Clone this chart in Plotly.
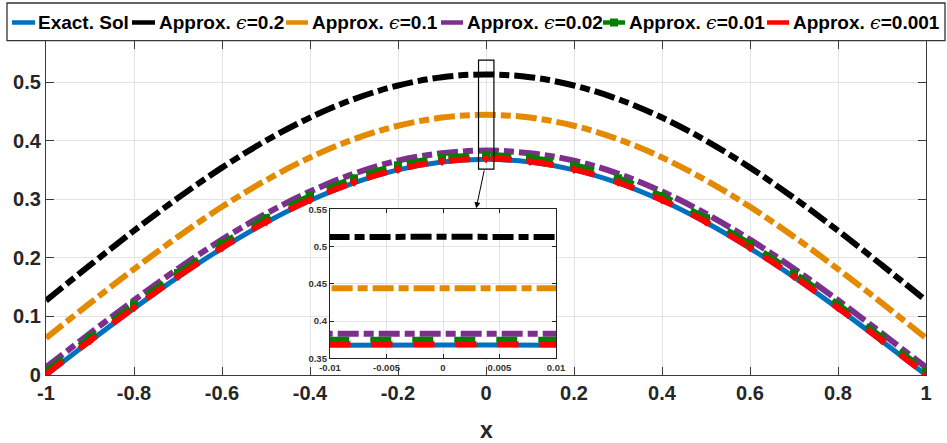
import plotly.graph_objects as go

# ---------------- data ----------------
X = [-1.0, -0.9, -0.8, -0.7, -0.6, -0.5, -0.4, -0.3, -0.2, -0.1, 0.0,
     0.1, 0.2, 0.3, 0.4, 0.5, 0.6, 0.7, 0.8, 0.9, 1.0]

EXACT = [0.000, 0.0576, 0.1137, 0.1671, 0.2163, 0.2602, 0.2977, 0.3279, 0.3500, 0.3635, 0.368,
         0.3635, 0.3500, 0.3279, 0.2977, 0.2602, 0.2163, 0.1671, 0.1137, 0.0576, 0.000]
EPS_02 = [0.127, 0.1874, 0.2463, 0.3022, 0.3539, 0.4000, 0.4393, 0.4709, 0.4941, 0.5083, 0.513,
          0.5083, 0.4941, 0.4709, 0.4393, 0.4000, 0.3539, 0.3022, 0.2463, 0.1874, 0.127]
EPS_01 = [0.063, 0.1226, 0.1807, 0.2360, 0.2870, 0.3324, 0.3712, 0.4025, 0.4254, 0.4393, 0.444,
          0.4393, 0.4254, 0.4025, 0.3712, 0.3324, 0.2870, 0.2360, 0.1807, 0.1226, 0.063]
EPS_002 = [0.013, 0.0710, 0.1276, 0.1814, 0.2311, 0.2753, 0.3131, 0.3436, 0.3659, 0.3784, 0.383,
           0.3784, 0.3659, 0.3436, 0.3131, 0.2753, 0.2311, 0.1814, 0.1276, 0.0710, 0.013]
EPS_001 = [0.006, 0.0639, 0.1203, 0.1740, 0.2235, 0.2676, 0.3053, 0.3357, 0.3579, 0.3704, 0.375,
           0.3704, 0.3579, 0.3357, 0.3053, 0.2676, 0.2235, 0.1740, 0.1203, 0.0639, 0.006]
EPS_0001 = [0.001, 0.0586, 0.1147, 0.1681, 0.2173, 0.2612, 0.2987, 0.3289, 0.3510, 0.3645, 0.369,
            0.3645, 0.3510, 0.3289, 0.2987, 0.2612, 0.2173, 0.1681, 0.1147, 0.0586, 0.001]

NAMES = ["Exact. Sol", "Approx. ϵ=0.2", "Approx. ϵ=0.1", "Approx. ϵ=0.02",
         "Approx. ϵ=0.01", "Approx. ϵ=0.001"]
SERIES = [EXACT, EPS_02, EPS_01, EPS_002, EPS_001, EPS_0001]

X_TICKS = [-1, -0.8, -0.6, -0.4, -0.2, 0, 0.2, 0.4, 0.6, 0.8, 1]
X_TICK_LABELS = ["-1", "-0.8", "-0.6", "-0.4", "-0.2", "0", "0.2", "0.4", "0.6", "0.8", "1"]
Y_TICKS = [0, 0.1, 0.2, 0.3, 0.4, 0.5]
Y_TICK_LABELS = ["0", "0.1", "0.2", "0.3", "0.4", "0.5"]
X_TITLE = "x"

INSET_X_TICKS = [-0.01, -0.005, 0, 0.005, 0.01]
INSET_X_LABELS = ["-0.01", "-0.005", "0", "0.005", "0.01"]
INSET_Y_TICKS = [0.35, 0.4, 0.45, 0.5, 0.55]
INSET_Y_LABELS = ["0.35", "0.4", "0.45", "0.5", "0.55"]

# ---------------- styling ----------------
COLORS = ["#0072BD", "#000000", "#E38A00", "#7E2F8E", "#008000", "#FF0000"]
WIDTHS = [5, 6, 6, 6, 6, 6]
DASHES = ["solid", "21px,5px,10px,5px", "21px,5px,10px,5px", "21px,5px,10px,5px",
          "21px,21px", "21px,21px"]
MARKERS = [None, None, None, None, ("square", 8), ("diamond", 7)]

W, H = 947, 443
ML, MR, MT, MB = 46, 21, 41, 68
PW, PH = W - ML - MR, H - MT - MB


def px(xp):
    return (xp - ML) / PW


def py(yp):
    return (H - MB - yp) / PH


FONT = "Liberation Sans, Arial, sans-serif"
AXC = "#3a3a3a"
GRID = "#e3e3e3"

fig = go.Figure()

for name, ys, c, w, d, m in zip(NAMES, SERIES, COLORS, WIDTHS, DASHES, MARKERS):
    kw = dict(mode="lines")
    if m is not None:
        kw = dict(mode="lines+markers",
                  marker=dict(symbol=m[0], size=m[1], color=c, line=dict(width=0)))
    fig.add_trace(go.Scatter(x=X, y=ys, name=name, showlegend=False,
                             line=dict(color=c, width=w, dash=d, shape="spline"),
                             xaxis="x", yaxis="y", **kw))

for name, ys, c, w, d in zip(NAMES, SERIES, COLORS, WIDTHS, DASHES):
    fig.add_trace(go.Scatter(x=X, y=ys, name=name, showlegend=False, mode="lines",
                             line=dict(color=c, width=w, dash=d, shape="spline"),
                             xaxis="x2", yaxis="y2", hoverinfo="skip"))

axis_common = dict(showline=True, linecolor=AXC, linewidth=1.3, mirror="ticks",
                   ticks="inside", tickcolor=AXC, tickwidth=1.3,
                   showgrid=True, gridcolor=GRID, gridwidth=1, zeroline=False)

inset_x0, inset_x1 = px(330), px(556)
inset_y0, inset_y1 = py(358.3), py(209.3)

fig.update_layout(
    width=W, height=H,
    margin=dict(l=ML, r=MR, t=MT, b=MB, autoexpand=False),
    paper_bgcolor="white", plot_bgcolor="white",
    showlegend=False,
    xaxis=dict(domain=[0, 1], range=[-1, 1], tickvals=X_TICKS, ticktext=X_TICK_LABELS,
               ticklen=8, anchor="y",
               tickfont=dict(family=FONT, size=20, color="#262626", weight="bold"),
               **axis_common),
    yaxis=dict(domain=[0, 1], range=[0, 0.57], tickvals=Y_TICKS, ticktext=Y_TICK_LABELS,
               ticklen=8, anchor="x",
               tickfont=dict(family=FONT, size=20, color="#262626", weight="bold"),
               **axis_common),
    xaxis2=dict(domain=[inset_x0, inset_x1], range=[-0.01, 0.01], anchor="y2",
                tickvals=INSET_X_TICKS, ticktext=INSET_X_LABELS, ticklen=4,
                tickfont=dict(family=FONT, size=9.5, color="#333333", weight="bold"),
                **{**axis_common, "linecolor": "#222", "tickcolor": "#222"}),
    yaxis2=dict(domain=[inset_y0, inset_y1], range=[0.35, 0.55], anchor="x2",
                tickvals=INSET_Y_TICKS, ticktext=INSET_Y_LABELS, ticklen=4,
                tickfont=dict(family=FONT, size=9.5, color="#333333", weight="bold"),
                **{**axis_common, "linecolor": "#222", "tickcolor": "#222"}),
)

shapes = []
annotations = []

# x-axis title
annotations.append(dict(x=0.5, y=py(430), xref="paper", yref="paper", text=X_TITLE,
                        showarrow=False, xanchor="center", yanchor="middle",
                        font=dict(family=FONT, size=23, color="#262626", weight="bold")))

# zoom rectangle and arrow
shapes.append(dict(type="rect", xref="x", yref="y", x0=-0.017, x1=0.018, y0=0.3515, y1=0.5375,
                   line=dict(color="black", width=1.2), fillcolor="rgba(0,0,0,0)"))
annotations.append(dict(x=-0.0223, y=0.2845, xref="x", yref="y", ax=-0.0034, ay=0.3515,
                        axref="x", ayref="y", text="", showarrow=True, arrowhead=2,
                        arrowsize=1.2, arrowwidth=1, arrowcolor="black"))

# custom legend
shapes.append(dict(type="rect", xref="paper", yref="paper", x0=px(7), x1=px(945),
                   y0=py(40.7), y1=py(3), line=dict(color="#333", width=1.3),
                   fillcolor="white", layer="below"))
LEG_SAMPLE = [(12, 35), (132, 155), (286, 308), (441, 463), (603, 625), (767, 789)]
LEG_TEXT = [37, 158, 311, 466, 628, 792]
ly = py(22.5)
for name, c, (s0, s1), t0, m in zip(NAMES, COLORS, LEG_SAMPLE, LEG_TEXT, MARKERS):
    shapes.append(dict(type="line", xref="paper", yref="paper", x0=px(s0), x1=px(s1),
                       y0=ly, y1=ly, line=dict(color=c, width=4.5)))
    if m is not None and m[0] == "square":
        cx = (s0 + s1) / 2
        shapes.append(dict(type="rect", xref="paper", yref="paper", x0=px(cx - 4),
                           x1=px(cx + 4), y0=py(26.5), y1=py(18.5),
                           line=dict(width=0), fillcolor=c))
    txt = name.replace("ϵ", '<span style="font-family:DejaVu Serif;font-weight:normal;'
                            'font-style:italic">ϵ</span>')
    annotations.append(dict(x=px(t0), y=ly, xref="paper", yref="paper", text=txt,
                            xanchor="left", yanchor="middle", showarrow=False,
                            borderpad=0,
                            font=dict(family=FONT, size=19, color="black", weight="bold")))

fig.update_layout(shapes=shapes, annotations=annotations)

fig.write_html("out.html")
